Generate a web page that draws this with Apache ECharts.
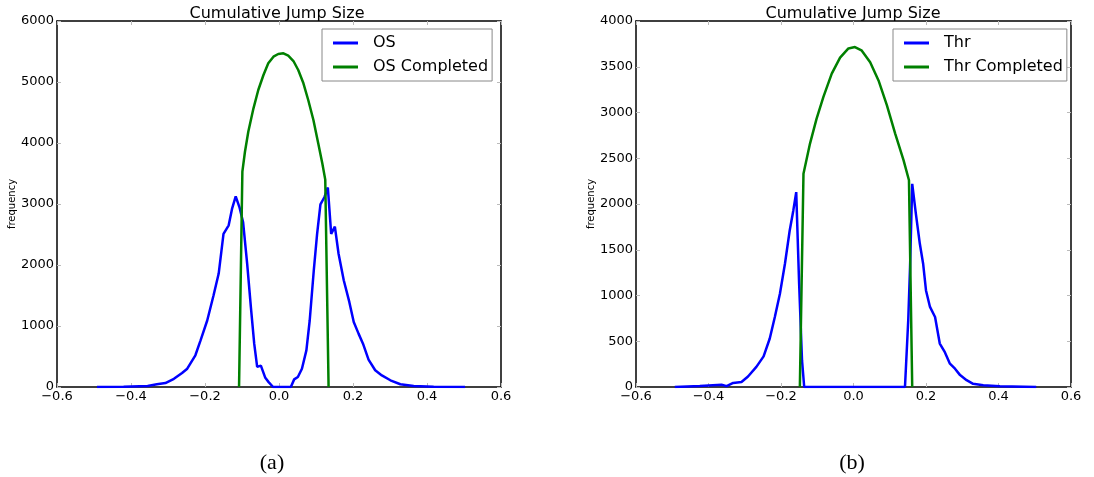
<!DOCTYPE html>
<html>
<head>
<meta charset="utf-8">
<title>Cumulative Jump Size</title>
<script src="https://cdn.jsdelivr.net/npm/echarts@6/dist/echarts.min.js"></script>
<style>
  html, body { margin: 0; padding: 0; background: #fff; }
  #chart { width: 1094px; height: 477px; }
</style>
</head>
<body>
<div id="chart"></div>
<script>
// Jump-size histograms (frequency per bin) for the OS and Thr runs,
// together with the completed distributions.
const xTicks = [-0.6, -0.4, -0.2, 0.0, 0.2, 0.4, 0.6];

const osX = [-0.492, -0.42, -0.355, -0.33, -0.307, -0.284, -0.262, -0.248, -0.226, -0.212,
  -0.194, -0.177, -0.163, -0.15, -0.136, -0.127, -0.117, -0.107, -0.097, -0.086,
  -0.076, -0.067, -0.059, -0.049, -0.037, -0.028, -0.016, 0.032, 0.041, 0.051,
  0.062, 0.074, 0.083, 0.094, 0.103, 0.112, 0.123, 0.132, 0.141, 0.151,
  0.161, 0.175, 0.19, 0.202, 0.215, 0.227, 0.242, 0.26, 0.278, 0.301,
  0.328, 0.364, 0.418, 0.503];
const osY = [0, 5, 15, 45, 65, 135, 230, 300, 520, 765,
  1090, 1500, 1860, 2510, 2650, 2920, 3125, 2950, 2700, 2020,
  1310, 710, 330, 350, 150, 80, 0, 0, 125, 165,
  300, 600, 1090, 1910, 2510, 2995, 3115, 3270, 2510, 2630,
  2185, 1750, 1395, 1065, 875, 710, 450, 275, 190, 110,
  45, 15, 5, 0];

const osDoneX = [-0.108, -0.099, -0.092, -0.083, -0.069, -0.056, -0.042, -0.029, -0.015, -0.002,
  0.012, 0.025, 0.039, 0.052, 0.066, 0.079, 0.093, 0.106, 0.117, 0.125,
  0.134];
const osDoneY = [0, 3530, 3857, 4185, 4568, 4869, 5115, 5306, 5415, 5459,
  5470, 5431, 5344, 5197, 4979, 4705, 4377, 3995, 3667, 3400,
  0];

const thrX = [-0.493, -0.424, -0.364, -0.35, -0.332, -0.309, -0.291, -0.268, -0.248, -0.231,
  -0.217, -0.203, -0.189, -0.176, -0.166, -0.158, -0.15, -0.142, -0.136, 0.142,
  0.151, 0.156, 0.162, 0.172, 0.183, 0.192, 0.2, 0.211, 0.225, 0.238,
  0.252, 0.266, 0.28, 0.294, 0.312, 0.33, 0.358, 0.404, 0.504];
const thrY = [0, 10, 25, 10, 45, 55, 115, 220, 335, 530,
  765, 1020, 1350, 1710, 1930, 2130, 1130, 290, 0, 0,
  730, 1310, 2220, 1895, 1565, 1350, 1055, 875, 765, 475,
  380, 255, 200, 130, 75, 35, 20, 8, 0];

const thrDoneX = [-0.148, -0.138, -0.12, -0.102, -0.083, -0.06, -0.037, -0.014, 0.004, 0.022,
  0.046, 0.069, 0.092, 0.115, 0.138, 0.153, 0.162];
const thrDoneY = [0, 2330, 2660, 2930, 3170, 3425, 3600, 3700, 3715, 3680,
  3550, 3350, 3080, 2770, 2480, 2260, 0];

const zip = (xs, ys) => xs.map((x, i) => [x, ys[i]]);
const fmtX = v => v.toFixed(1).replace('-', '\u2212');
const fmtY = v => String(v);

const FONT = 'DejaVu Sans';
const BLUE = '#0000ff';
const GREEN = '#008000';

const frameLine = { show: true, lineStyle: { color: '#000', width: 1.5 } };
const innerTick = { show: true, inside: true, length: 4, lineStyle: { color: '#bbb', width: 1 } };

function xAxes(grid) {
  return [
    {
      type: 'value', gridIndex: grid, position: 'bottom',
      min: -0.6, max: 0.6, interval: 0.2,
      axisLine: Object.assign({ onZero: false }, frameLine),
      axisTick: innerTick, splitLine: { show: false },
      axisLabel: { color: '#000', fontFamily: FONT, fontSize: 13, margin: 3, formatter: fmtX }
    },
    {
      type: 'value', gridIndex: grid, position: 'top',
      min: -0.6, max: 0.6, interval: 0.2,
      axisLine: Object.assign({ onZero: false }, frameLine),
      axisTick: innerTick, splitLine: { show: false }, axisLabel: { show: false }
    }
  ];
}

function yAxes(grid, maxY, step) {
  return [
    {
      type: 'value', gridIndex: grid, position: 'left',
      min: 0, max: maxY, interval: step,
      name: 'frequency', nameLocation: 'middle', nameRotate: 90, nameGap: 38,
      nameTextStyle: { color: '#000', fontFamily: FONT, fontSize: 10 },
      axisLine: Object.assign({ onZero: false }, frameLine),
      axisTick: innerTick, splitLine: { show: false },
      axisLabel: { color: '#000', fontFamily: FONT, fontSize: 13, margin: 3, formatter: fmtY }
    },
    {
      type: 'value', gridIndex: grid, position: 'right',
      min: 0, max: maxY, interval: step,
      axisLine: Object.assign({ onZero: false }, frameLine),
      axisTick: innerTick, splitLine: { show: false }, axisLabel: { show: false }
    }
  ];
}

function lineSeries(name, data, color, grid) {
  return {
    name: name, type: 'line', data: data,
    xAxisIndex: grid * 2, yAxisIndex: grid * 2,
    symbol: 'none', smooth: false, animation: false,
    lineStyle: { color: color, width: 2.5 },
    itemStyle: { color: color }
  };
}

function legendAt(left, names) {
  return {
    left: left, top: 29, orient: 'vertical',
    data: names.map(n => ({ name: n, icon: 'rect' })),
    itemWidth: 25, itemHeight: 3, itemGap: 6,
    padding: [5, 4, 5, 11],
    borderColor: '#888', borderWidth: 1, borderRadius: 0,
    backgroundColor: '#fff',
    textStyle: { color: '#000', fontFamily: FONT, fontSize: 16, lineHeight: 18, padding: [0, 0, 0, 10] },
    selectedMode: false
  };
}

const chart = echarts.init(document.getElementById('chart'), null, { renderer: 'canvas' });

const titleFont = { fontFamily: FONT, fontSize: 16, fontWeight: 'normal', color: '#000' };
const captionFont = { fontFamily: 'Liberation Serif', fontSize: 22, fontWeight: 'normal', color: '#000' };

chart.setOption({
  animation: false,
  backgroundColor: '#fff',
  title: [
    { text: 'Cumulative Jump Size', left: 277, top: 6, padding: 0, textAlign: 'center', textStyle: titleFont },
    { text: 'Cumulative Jump Size', left: 853, top: 6, padding: 0, textAlign: 'center', textStyle: titleFont },
    { text: '(a)', left: 272, top: 452, padding: 0, textAlign: 'center', textStyle: captionFont },
    { text: '(b)', left: 852, top: 452, padding: 0, textAlign: 'center', textStyle: captionFont }
  ],
  grid: [
    { left: 57, top: 21, width: 444, height: 366, containLabel: false },
    { left: 636, top: 21, width: 435, height: 366, containLabel: false }
  ],
  xAxis: xAxes(0).concat(xAxes(1)),
  yAxis: yAxes(0, 6000, 1000).concat(yAxes(1, 4000, 500)),
  legend: [
    legendAt(322, ['OS', 'OS Completed']),
    legendAt(893, ['Thr', 'Thr Completed'])
  ],
  series: [
    lineSeries('OS', zip(osX, osY), BLUE, 0),
    lineSeries('OS Completed', zip(osDoneX, osDoneY), GREEN, 0),
    lineSeries('Thr', zip(thrX, thrY), BLUE, 1),
    lineSeries('Thr Completed', zip(thrDoneX, thrDoneY), GREEN, 1)
  ]
});
</script>
</body>
</html>
